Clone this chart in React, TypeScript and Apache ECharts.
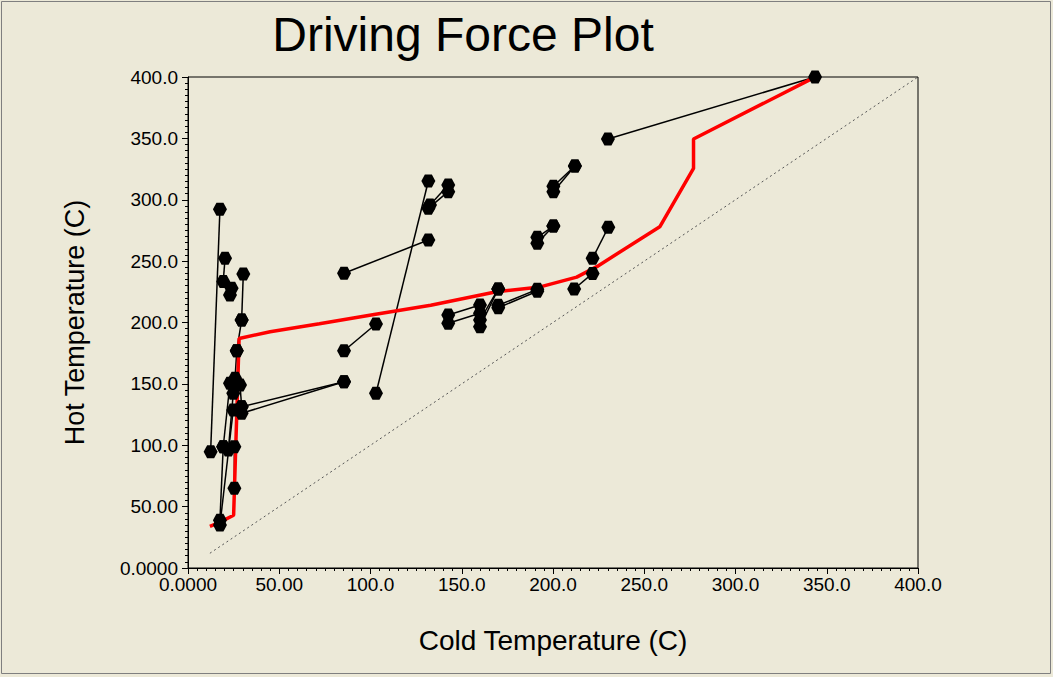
import React, { useEffect, useRef } from "react";
import * as echarts from "echarts";

// Composite (driving force) curve: [cold, hot]
const redCurve: [number, number][] = [
  [12, 34], [17, 37], [25, 43], [28, 187], [45, 192.5], [72, 199], [102, 206.5],
  [133, 214], [169, 225], [193, 229], [213, 237], [224, 245.5], [258.5, 278],
  [277, 325.5], [277, 349.5], [343, 399.5],
];

// Exchanger segments: [coldA, hotA, coldB, hotB]
const segments: [number, number, number, number][] = [
  [230.1, 349.5, 343.6, 400],
  [212, 327.5, 200.2, 311],
  [212, 327.5, 200.2, 306.6],
  [200.2, 278.6, 191.4, 269.4],
  [200.2, 278.6, 191.4, 264.5],
  [230.3, 277.6, 221.7, 252.3],
  [221.7, 240, 211.6, 227.3],
  [131.7, 315.3, 103, 142.3],
  [142.6, 312, 132.6, 295.7],
  [142.6, 306.6, 131.7, 293],
  [131.7, 267.2, 85.5, 240.1],
  [103, 198.8, 85.5, 177],
  [85.5, 151.8, 29.4, 131.4],
  [85.5, 151.8, 29.4, 126],
  [142.6, 206.1, 160, 214.3],
  [142.6, 199.4, 160, 207.5],
  [170, 227.3, 160, 196.6],
  [170, 227.3, 160, 202],
  [170, 214, 191.4, 227],
  [170, 212, 191.4, 225.5],
  [17.5, 292.2, 12.4, 94.8],
  [20.3, 252.3, 19.3, 233.3],
  [30.3, 239.5, 29.4, 202],
  [23.9, 227.9, 23, 222.4],
  [29.4, 202, 26.7, 177],
  [26.7, 177, 25.8, 154.5],
  [23, 150.5, 19.3, 98.8],
  [24.8, 142.3, 22.1, 96.1],
  [28.5, 149, 29.4, 131.4],
  [17.5, 39, 19.3, 98.8],
  [17.5, 35, 24.8, 128.7],
  [25.4, 64.9, 25.4, 98.8],
];

const diagonal: [number, number][] = [[12, 12], [400, 400]];

const axisMin = 0;
const axisMax = 400;
const axisStep = 50;

const fmt = (v: number) =>
  v === 0 ? "0.0000" : v < 100 ? v.toFixed(2) : v.toFixed(1);

const hexagon =
  "path://M-1,0 L-0.5,-0.866 L0.5,-0.866 L1,0 L0.5,0.866 L-0.5,0.866 Z";

export default function App() {
  const ref = useRef<HTMLDivElement>(null);
  useEffect(() => {
    document.body.style.margin = "0";
    const chart = echarts.init(ref.current!, null, { renderer: "svg" });
    const font = "Liberation Sans, Arial, sans-serif";
    const axisCommon = {
      type: "value" as const,
      min: axisMin,
      max: axisMax,
      interval: axisStep,
      nameLocation: "middle" as const,
      axisLine: { show: true, lineStyle: { color: "#000", width: 1 } },
      axisTick: { show: true, inside: false, length: 6, lineStyle: { color: "#000" } },
      minorTick: { show: true, splitNumber: 10, length: 3, lineStyle: { color: "#000" } },
      splitLine: { show: false },
      minorSplitLine: { show: false },
      axisLabel: {
        color: "#000",
        fontSize: 19,
        fontFamily: font,
        formatter: (v: number) => fmt(v),
        showMinLabel: true,
        showMaxLabel: true,
      },
    };
    const segSeries = segments.map((s) => ({
      type: "line",
      data: [[s[0], s[1]], [s[2], s[3]]],
      showSymbol: false,
      symbol: "none",
      lineStyle: { color: "#000", width: 1.5 },
      z: 2,
      silent: true,
    }));
    const markerData: [number, number][] = [];
    segments.forEach((s) => {
      markerData.push([s[0], s[1]]);
      markerData.push([s[2], s[3]]);
    });
    chart.setOption({
      animation: false,
      backgroundColor: "#ECE9D8",
      textStyle: { fontFamily: font },
      grid: {
        left: 188,
        top: 77,
        width: 730,
        height: 491,
        show: true,
        borderColor: "#000",
        borderWidth: 1,
        backgroundColor: "transparent",
      },
      xAxis: {
        ...axisCommon,
        name: "Cold Temperature (C)",
        nameGap: 58,
        nameTextStyle: { fontSize: 28, color: "#000", fontFamily: font },
        axisLabel: { ...axisCommon.axisLabel, margin: 7 },
      },
      yAxis: {
        ...axisCommon,
        name: "Hot Temperature (C)",
        nameGap: 100,
        nameTextStyle: { fontSize: 27, color: "#000", fontFamily: font },
        axisLabel: { ...axisCommon.axisLabel, margin: 10 },
      },
      graphic: [
        {
          type: "text",
          x: 463,
          y: 34,
          style: {
            text: "Driving Force Plot",
            font: "48px Liberation Sans, Arial, sans-serif",
            fill: "#000",
            textAlign: "center",
            textVerticalAlign: "middle",
          },
        },
        {
          type: "rect",
          shape: { x: 1.5, y: 1.5, width: 1049, height: 672 },
          style: { fill: "none", stroke: "#7f7f7f", lineWidth: 1 },
          silent: true,
        },
      ],
      series: [
        {
          type: "line",
          data: diagonal,
          showSymbol: false,
          symbol: "none",
          lineStyle: { color: "#555", width: 1, type: [2, 3] },
          z: 1,
          silent: true,
        },
        ...segSeries,
        {
          type: "line",
          data: redCurve,
          showSymbol: false,
          symbol: "none",
          lineStyle: { color: "#ff0000", width: 3.5 },
          z: 3,
          silent: true,
        },
        {
          type: "scatter",
          data: markerData,
          symbol: hexagon,
          symbolSize: [14, 13],
          itemStyle: { color: "#000", opacity: 1 },
          z: 4,
          silent: true,
        },
      ],
    });
    return () => chart.dispose();
  }, []);
  return <div ref={ref} style={{ width: 1053, height: 677 }} />;
}
